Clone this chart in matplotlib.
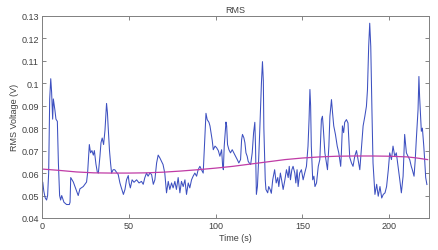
import matplotlib
matplotlib.use("Agg")
import matplotlib.pyplot as plt

# RMS voltage (time in s, volts)
t_rms = [0.0, 0.6, 1.2, 2.0, 2.8, 3.4, 4.0, 4.6, 5.2, 5.7, 6.3, 6.7, 7.6, 8.2, 9.0, 9.6,
         10.3, 10.9, 11.5, 12.8, 14.3, 15.9, 16.3, 16.7, 18.2, 20.1, 21.0, 22.0, 23.9, 25.8,
         26.4, 27.4, 28.1, 28.9, 29.7, 30.3, 31.2, 32.0, 32.6, 33.5, 34.1, 34.8, 35.6, 36.4,
         37.3, 37.8, 38.2, 39.0, 39.6, 40.2, 41.1, 42.0, 43.0, 44.0, 45.0, 45.6, 47.0, 47.9,
         48.8, 49.8, 50.3, 51.0, 52.0, 53.1, 54.6, 56.0, 57.4, 58.4, 59.3, 60.3, 61.2, 62.2,
         63.2, 64.2, 65.1, 66.1, 67.0, 68.0, 68.9, 69.8, 70.8, 71.8, 72.8, 73.7, 74.7, 75.6,
         76.6, 77.5, 78.5, 79.5, 80.4, 81.4, 82.4, 83.3, 84.3, 85.2, 86.2, 87.1, 88.1, 89.1,
         90.0, 91.0, 91.9, 92.9, 93.9, 94.5, 95.2, 96.2, 96.8, 97.4, 98.1, 98.7, 99.7, 100.6,
         101.6, 102.5, 103.5, 104.1, 104.5, 105.0, 106.0, 106.4, 106.9, 107.7, 108.6, 109.6,
         110.5, 111.5, 112.5, 113.4, 114.4, 115.0, 115.5, 116.3, 116.9, 117.5, 118.2, 118.8,
         119.4, 120.2, 121.1, 121.9, 122.6, 123.0, 123.5, 124.1, 124.8, 125.4, 126.4, 127.0,
         127.5, 127.8, 128.3, 128.6, 129.0, 130.0, 130.6, 131.4, 132.1, 132.9, 134.0, 134.9,
         135.8, 136.4, 137.3, 138.0, 138.9, 139.9, 140.8, 141.8, 142.4, 143.1, 143.9, 144.6,
         145.6, 146.2, 146.9, 147.5, 148.4, 149.4, 150.4, 151.3, 152.3, 153.2, 153.8, 154.3,
         154.7, 155.1, 155.9, 156.6, 157.2, 158.1, 159.1, 160.0, 160.9, 161.5, 162.0, 162.9,
         163.8, 164.4, 165.2, 165.8, 166.7, 167.3, 168.0, 169.0, 170.0, 170.9, 172.0, 172.4,
         173.0, 173.7, 174.3, 175.3, 176.2, 177.2, 178.2, 179.1, 180.1, 181.1, 182.0, 183.0,
         184.0, 184.9, 185.9, 186.8, 187.4, 188.1, 188.7, 189.3, 190.0, 190.6, 191.2, 191.7,
         192.7, 193.6, 194.6, 195.6, 196.5, 197.5, 198.4, 199.4, 200.2, 201.2, 202.1, 203.1,
         204.0, 205.0, 206.0, 206.9, 207.9, 208.8, 209.8, 210.7, 211.7, 212.6, 213.2, 214.2,
         214.9, 215.5, 216.5, 217.0, 217.4, 218.4, 219.0, 219.8, 220.3, 220.9, 221.6]
v_rms = [0.054, 0.056, 0.052, 0.049, 0.048, 0.050, 0.060, 0.093, 0.102, 0.096, 0.084, 0.093,
         0.088, 0.084, 0.083, 0.0645, 0.050, 0.048, 0.050, 0.047, 0.046, 0.046, 0.047, 0.058,
         0.056, 0.052, 0.050, 0.053, 0.054, 0.056, 0.060, 0.0727, 0.069, 0.070, 0.068, 0.070,
         0.064, 0.0604, 0.060, 0.0675, 0.0735, 0.0756, 0.0727, 0.079, 0.091, 0.087, 0.081,
         0.070, 0.0645, 0.060, 0.0615, 0.0615, 0.0604, 0.0594, 0.0556, 0.054, 0.0505, 0.0527,
         0.057, 0.0589, 0.0556, 0.0534, 0.057, 0.0559, 0.057, 0.0556, 0.0563, 0.055, 0.0579,
         0.060, 0.0586, 0.060, 0.0594, 0.055, 0.057, 0.0645, 0.068, 0.0667, 0.0652, 0.0638,
         0.060, 0.0512, 0.0563, 0.0527, 0.0556, 0.0534, 0.0563, 0.0527, 0.058, 0.0512, 0.0563,
         0.054, 0.057, 0.0505, 0.0556, 0.0534, 0.057, 0.0586, 0.060, 0.0586, 0.0615, 0.063,
         0.0615, 0.060, 0.076, 0.0866, 0.0838, 0.0826, 0.081, 0.078, 0.0745, 0.0704, 0.072,
         0.0713, 0.070, 0.0675, 0.0704, 0.063, 0.0615, 0.072, 0.0827, 0.081, 0.0727, 0.0704,
         0.069, 0.0704, 0.069, 0.0675, 0.066, 0.0645, 0.066, 0.0749, 0.0772, 0.0757, 0.0735,
         0.069, 0.0675, 0.0652, 0.0645, 0.0638, 0.069, 0.078, 0.0826, 0.072, 0.0505, 0.054,
         0.066, 0.078, 0.100, 0.1096, 0.101, 0.080, 0.0645, 0.057, 0.0527, 0.0512, 0.054,
         0.0527, 0.051, 0.057, 0.0615, 0.0556, 0.058, 0.054, 0.060, 0.057, 0.0527, 0.057,
         0.0615, 0.058, 0.063, 0.057, 0.0615, 0.063, 0.060, 0.0556, 0.0615, 0.054, 0.060,
         0.0615, 0.057, 0.060, 0.063, 0.072, 0.0838, 0.0972, 0.090, 0.072, 0.057, 0.0586,
         0.054, 0.0556, 0.063, 0.066, 0.0838, 0.0853, 0.080, 0.069, 0.0645, 0.0615, 0.072,
         0.0853, 0.0927, 0.087, 0.081, 0.0771, 0.072, 0.069, 0.063, 0.069, 0.081, 0.078,
         0.0826, 0.0838, 0.0823, 0.067, 0.0645, 0.063, 0.0675, 0.070, 0.066, 0.0615, 0.072,
         0.081, 0.0853, 0.0897, 0.097, 0.1164, 0.1267, 0.1164, 0.087, 0.0645, 0.057, 0.0505,
         0.055, 0.0497, 0.054, 0.0489, 0.0505, 0.0512, 0.054, 0.0615, 0.069, 0.066, 0.072,
         0.0675, 0.069, 0.063, 0.057, 0.0512, 0.0586, 0.0772, 0.069, 0.0675, 0.066, 0.063,
         0.0615, 0.0586, 0.066, 0.0749, 0.0882, 0.103, 0.094, 0.0786, 0.080, 0.072, 0.066,
         0.058, 0.0549]

# slow trend line
t_trend = [0, 10, 20, 30, 40, 50, 60, 70, 80, 90, 100, 110, 120, 130, 140, 150, 160, 170,
           180, 190, 200, 210, 215, 222]
v_trend = [0.0618, 0.0612, 0.0605, 0.0601, 0.0600, 0.0600, 0.0601, 0.0604, 0.0609, 0.0615,
           0.0622, 0.0630, 0.0640, 0.0650, 0.0660, 0.0667, 0.0672, 0.0675, 0.0676, 0.0676,
           0.0675, 0.0672, 0.0668, 0.0660]

plt.rcParams['font.family'] = ['Liberation Sans', 'DejaVu Sans']
plt.rcParams['font.size'] = 6.5

fig = plt.figure(figsize=(4.39, 2.51), dpi=100)
ax = fig.add_axes([0.095, 0.1275, 0.883, 0.8055])

ax.plot(t_rms, v_rms, color="#3d50c0", lw=0.75)
ax.plot(t_trend, v_trend, color="#c03ca6", lw=0.9)

ax.set_xlim(0, 223)
ax.set_ylim(0.04, 0.13)
ax.set_xticks([0, 50, 100, 150, 200])
ax.set_yticks([0.04, 0.05, 0.06, 0.07, 0.08, 0.09, 0.1, 0.11, 0.12, 0.13])
ax.set_yticklabels(["0.04", "0.05", "0.06", "0.07", "0.08", "0.09", "0.1", "0.11", "0.12", "0.13"])

ax.tick_params(direction="in", length=3, width=0.6, top=True, right=True,
               colors="#707070", labelcolor="#404040", labelsize=6.5, pad=2)
for s in ax.spines.values():
    s.set_color("#808080")
    s.set_linewidth(0.7)

ax.set_title("RMS", fontsize=6.5, color="#404040", pad=3)
ax.set_xlabel("Time (s)", fontsize=6.5, color="#404040", labelpad=2)
ax.set_ylabel("RMS Voltage (V)", fontsize=6.5, color="#404040", labelpad=2)

fig.savefig("out.png", dpi=100)
